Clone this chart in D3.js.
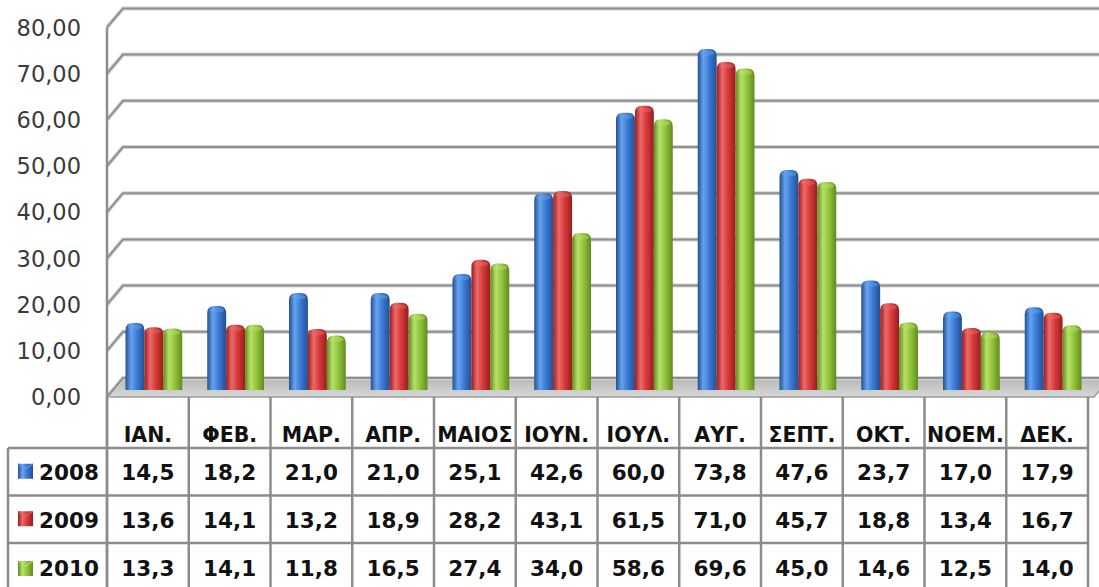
<!DOCTYPE html>
<html>
<head>
<meta charset="utf-8">
<script src="https://cdn.jsdelivr.net/npm/d3@7"></script>
<style>
html,body{margin:0;padding:0;background:#fff;}
svg{display:block;}
</style>
</head>
<body>
<svg id="chart" width="1099" height="587"></svg>
<script>
const months = ["ΙΑΝ.","ΦΕΒ.","ΜΑΡ.","ΑΠΡ.","ΜΑΙΟΣ","ΙΟΥΝ.","ΙΟΥΛ.","ΑΥΓ.","ΣΕΠΤ.","ΟΚΤ.","ΝΟΕΜ.","ΔΕΚ."];
const seriesNames = ["2008","2009","2010"];
const values2008 = [14.5,18.2,21.0,21.0,25.1,42.6,60.0,73.8,47.6,23.7,17.0,17.9];
const values2009 = [13.6,14.1,13.2,18.9,28.2,43.1,61.5,71.0,45.7,18.8,13.4,16.7];
const values2010 = [13.3,14.1,11.8,16.5,27.4,34.0,58.6,69.6,45.0,14.6,12.5,14.0];
const yTicks = [0,10,20,30,40,50,60,70,80];

const seriesValues = [values2008, values2009, values2010];
const colors = [
  {edge:"#234f93", mid:"#3b7bd6", hi:"#66a3ee"},
  {edge:"#9a1c1c", mid:"#d63a3a", hi:"#ec6a6a"},
  {edge:"#5f8c1e", mid:"#93c43c", hi:"#b8e06a"}
];

const svg = d3.select("#chart");
const defs = svg.append("defs");
colors.forEach((c,i)=>{
  const g = defs.append("linearGradient").attr("id","g"+i).attr("x1","0").attr("x2","1").attr("y1","0").attr("y2","0");
  g.append("stop").attr("offset","0%").attr("stop-color",c.edge);
  g.append("stop").attr("offset","30%").attr("stop-color",c.hi);
  g.append("stop").attr("offset","60%").attr("stop-color",c.mid);
  g.append("stop").attr("offset","100%").attr("stop-color",c.edge);
});
const fg = defs.append("linearGradient").attr("id","floor").attr("x1","0").attr("x2","0").attr("y1","0").attr("y2","1");
fg.append("stop").attr("offset","0%").attr("stop-color","#b8b8b8");
fg.append("stop").attr("offset","100%").attr("stop-color","#d8d8d8");

const x0 = 107, x1 = 1088;
const depthX = 16, depthY = -19;
const x = d3.scaleBand().domain(months).range([x0, x1]).paddingInner(0).paddingOuter(0);
const xs = d3.scaleBand().domain(seriesNames).range([0, x.bandwidth()]).paddingInner(0).paddingOuter(0.66);
const y = d3.scaleLinear().domain([0,80]).range([397, 27.4]);
const barDX = 6, barDY = -7;

// floor
const fy = y(0);
svg.append("path")
  .attr("d", `M${x0},${fy} L${x0+depthX},${fy+depthY} L${1110},${fy+depthY} L${x1+6},${fy} Z`)
  .attr("fill","url(#floor)").attr("stroke","#9a9a9a").attr("stroke-width",1.5);

// gridlines
const grid = svg.append("g");
yTicks.forEach(v=>{
  const yy = y(v);
  const d = `M${x0},${yy} L${x0+depthX},${yy+depthY} L1110,${yy+depthY}`;
  grid.append("path").attr("d",d).attr("fill","none").attr("stroke","#d2d2d2").attr("stroke-width",4);
  grid.append("path").attr("d",d).attr("fill","none").attr("stroke","#909090").attr("stroke-width",2);
});
// front vertical axis
svg.append("line").attr("x1",x0).attr("x2",x0).attr("y1",y(80)).attr("y2",587)
  .attr("stroke","#8c8c8c").attr("stroke-width",2.5);

// y labels
svg.append("g").selectAll("text").data(yTicks).join("text")
  .attr("x",81).attr("y",d=>y(d)).attr("dy","0.36em")
  .attr("text-anchor","end")
  .attr("font-family","DejaVu Sans, Verdana, sans-serif").attr("font-size",22.5)
  .attr("fill","#3a3a3a")
  .text(d=>d3.format(".2f")(d).replace(".",","));

// bars
function barPath(bx, by, w, h){
  const r = Math.min(7, h);
  return `M${bx},${by+h} L${bx},${by+r} Q${bx},${by} ${bx+r},${by} L${bx+w-r},${by} Q${bx+w},${by} ${bx+w},${by+r} L${bx+w},${by+h} Z`;
}
const bars = svg.append("g");
months.forEach((m,mi)=>{
  seriesNames.forEach((s,si)=>{
    const v = seriesValues[si][mi];
    const bx = x(m) + xs(s) + barDX;
    const top = y(v) + barDY;
    const base = y(0) + barDY;
    bars.append("path")
      .attr("d", barPath(bx, top, xs.bandwidth(), base-top))
      .attr("fill", `url(#g${si})`);
    bars.append("ellipse")
      .attr("cx", bx + xs.bandwidth()/2).attr("cy", top+4)
      .attr("rx", xs.bandwidth()/2-2).attr("ry", 2.5)
      .attr("fill", colors[si].hi).attr("opacity",0.45);
  });
});

// data table
const tbl = svg.append("g");
const lineC = "#8c8c8c";
const rowY = [397, 448, 495.5, 543, 590];
const legendX = 8;
d3.range(13).forEach(i=>{
  const xx = x0 + i*x.bandwidth();
  tbl.append("line").attr("x1",xx).attr("x2",xx).attr("y1",rowY[0]).attr("y2",590)
    .attr("stroke",lineC).attr("stroke-width",2.5);
});
tbl.append("line").attr("x1",legendX).attr("x2",legendX).attr("y1",rowY[1]).attr("y2",590)
  .attr("stroke",lineC).attr("stroke-width",2.5);
[1,2,3].forEach(r=>{
  tbl.append("line").attr("x1",legendX).attr("x2",x1).attr("y1",rowY[r]).attr("y2",rowY[r])
    .attr("stroke",lineC).attr("stroke-width",2.5);
});
tbl.selectAll("text.h").data(months).join("text").attr("class","h")
  .attr("x",d=>x(d)+x.bandwidth()/2).attr("y",442)
  .attr("text-anchor","middle")
  .attr("font-family","DejaVu Sans, sans-serif").attr("font-weight","bold").attr("font-size",20.5)
  .attr("fill","#111").text(d=>d);
seriesNames.forEach((s,si)=>{
  const cy = (rowY[si+1]+rowY[si+2])/2;
  tbl.append("g").selectAll("text").data(seriesValues[si]).join("text")
    .attr("x",(d,i)=>x(months[i])+x.bandwidth()/2).attr("y", si===2 ? 576 : cy+8.5)
    .attr("text-anchor","middle")
    .attr("font-family","DejaVu Sans, sans-serif").attr("font-weight","bold").attr("font-size",21.5)
    .attr("fill","#111").text(d=>d3.format(".1f")(d).replace(".",","));
  const ky = si===2 ? 561 : cy-8;
  tbl.append("rect").attr("x",18).attr("y",ky).attr("width",15).attr("height",15)
    .attr("fill",`url(#g${si})`);
  tbl.append("path").attr("d",`M18,${ky} L25.5,${ky+5} L33,${ky}`).attr("fill","none")
    .attr("stroke",colors[si].hi).attr("stroke-width",1.2).attr("opacity",0.8);
  tbl.append("text").attr("x",39).attr("y", si===2 ? 576 : cy+8.5)
    .attr("font-family","DejaVu Sans, sans-serif").attr("font-weight","bold").attr("font-size",21.5)
    .attr("fill","#111").text(s);
});
</script>
</body>
</html>
